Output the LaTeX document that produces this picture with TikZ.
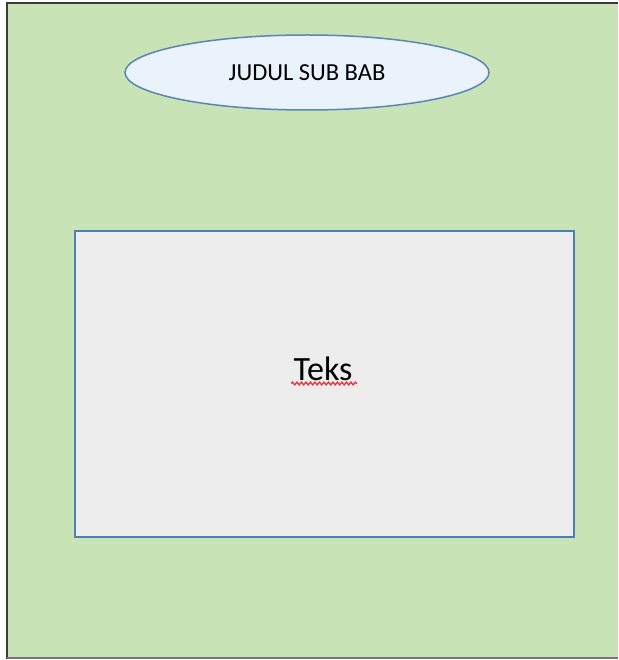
\documentclass[tikz,border=0pt]{standalone}
\usepackage{fontspec}
\setmainfont{Carlito}
\usetikzlibrary{decorations.pathmorphing,shapes.geometric}
\definecolor{pagegreen}{HTML}{C8E4B6}
\definecolor{framegray}{HTML}{3A3A3A}
\definecolor{ovalfill}{HTML}{EAF2FB}
\definecolor{ovaledge}{HTML}{5A86B4}
\definecolor{boxfill}{HTML}{EEEDEE}
\definecolor{boxedge}{HTML}{4F7DB5}
\definecolor{squig}{HTML}{E8333A}
\tikzset{
  oval/.style={ellipse, draw=ovaledge, line width=1.5pt, fill=ovalfill, minimum width=364pt, minimum height=75pt, inner sep=0pt, font=\fontsize{24.5}{28}\selectfont, text=black},
  textbox/.style={rectangle, draw=boxedge, line width=1.8pt, fill=boxfill, minimum width=499pt, minimum height=306pt, inner sep=0pt},
}
\begin{document}
\begin{tikzpicture}[x=1pt,y=-1pt]
\useasboundingbox (0,0) rectangle (618,660);
\fill[white] (0,0) rectangle (618,660);
\fill[pagegreen] (7,3) rectangle (618,658);
\draw[framegray, line width=2pt] (7,659) -- (7,3) -- (618,3);
\draw[framegray!70, line width=1.5pt] (7,658) -- (618,658);
\node[oval] (title) at (307,72.5) {JUDUL SUB BAB};
\node[textbox] (body) at (324.5,384) {};
\node[font=\fontsize{34}{38}\selectfont, text=black] (teks) at (323,369) {Teks};
\coordinate (sqa) at (291,383.5);
\coordinate (sqb) at (357,383.5);
\draw[squig, line width=1.3pt, decorate, decoration={snake, amplitude=1.4pt, segment length=4.5pt}] (sqa) -- (sqb);
\end{tikzpicture}
\end{document}
